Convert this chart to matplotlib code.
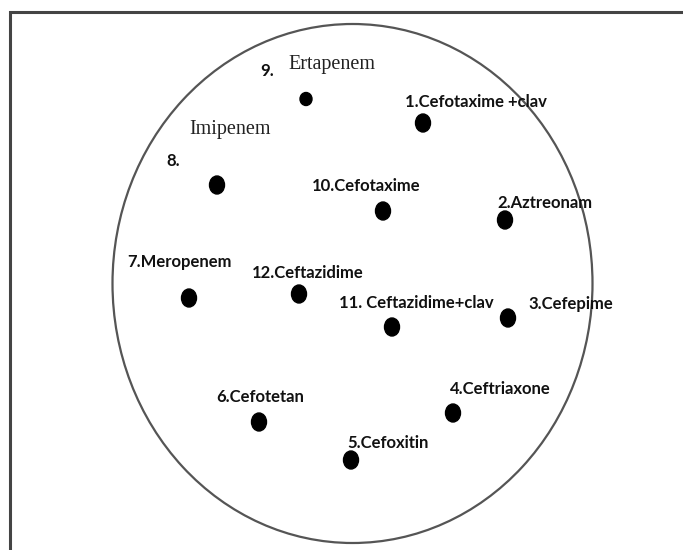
import matplotlib.pyplot as plt
from matplotlib.patches import Ellipse

# disc positions on the plate (pixel-like coordinates, y downwards)
disc_no = [1, 2, 3, 4, 5, 6, 7, 8, 9, 10, 11, 12]
disc_x = [423, 505, 508, 453, 351, 259, 189, 217, 306, 383, 392, 299]
disc_y = [123, 220, 318, 413, 460, 422, 298, 185, 99, 211, 327, 294]

# label text and where it sits (left edge, baseline)
labels = ["1.Cefotaxime +clav", "2.Aztreonam", "3.Cefepime", "4.Ceftriaxone",
          "5.Cefoxitin", "6.Cefotetan", "7.Meropenem", "8.", "9.",
          "10.Cefotaxime", "11. Ceftazidime+clav", "12.Ceftazidime"]
label_x = [405, 497, 528, 450, 347, 216, 127, 166, 260, 312, 339, 252]
label_y = [107, 208, 309, 394, 448, 402, 267, 166, 76, 191, 308, 278]

serif_labels = ["Ertapenem", "Imipenem"]
serif_x = [288, 189]
serif_y = [69, 134]

bold_font = ["Lato", "DejaVu Sans"]
serif_font = ["Liberation Serif", "DejaVu Serif"]

fig = plt.figure(figsize=(6.83, 5.5), dpi=100)
ax = fig.add_axes([0, 0, 1, 1])
ax.set_xlim(0, 683)
ax.set_ylim(550, 0)
ax.axis("off")

# frame (open at right and bottom, cropped)
ax.plot([10, 10, 683], [550, 12, 12], color="#444444", lw=2.2, solid_joinstyle="miter")

# plate
ax.add_patch(Ellipse((352.5, 283.5), 480, 519, fill=False, ec="#555555", lw=1.6))

for n, x, y in zip(disc_no, disc_x, disc_y):
    if n == 9:
        w, h = 12, 13
    else:
        w, h = 15, 18
    ax.add_patch(Ellipse((x, y), w, h, color="black"))

for t, x, y in zip(labels, label_x, label_y):
    ax.text(x, y, t, family=bold_font, fontweight="bold", fontsize=12,
            ha="left", va="baseline", color="#111111")

for t, x, y in zip(serif_labels, serif_x, serif_y):
    ax.text(x, y, t, family=serif_font, fontsize=14.5, ha="left", va="baseline",
            color="#222222")

plt.savefig("out.png", dpi=100)
plt.close()
